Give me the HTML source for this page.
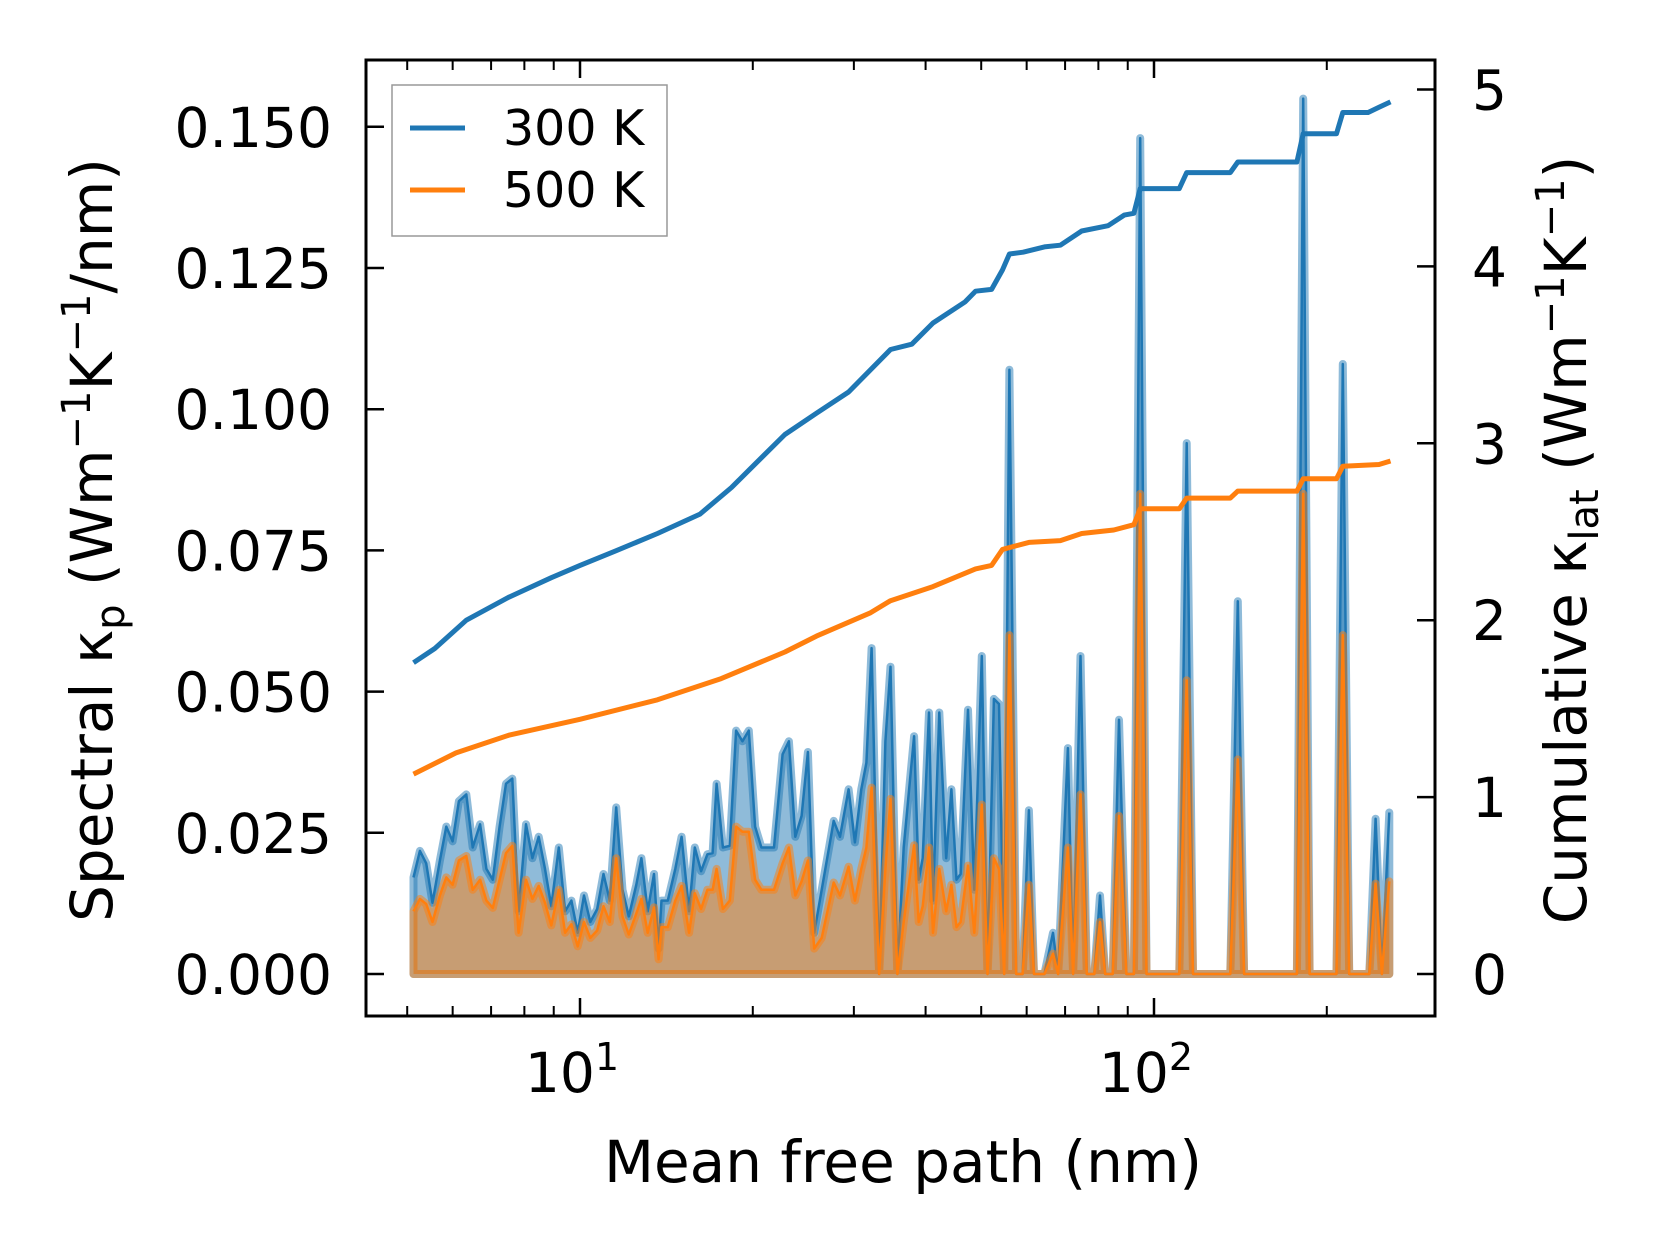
<!DOCTYPE html>
<html><head><meta charset="utf-8"><style>
html,body{margin:0;padding:0;background:#fff}
svg{display:block;font-family:"DejaVu Sans","Liberation Sans",sans-serif}
</style></head><body>
<svg id="chart" width="1660" height="1254" viewBox="0 0 1660 1254" xmlns="http://www.w3.org/2000/svg">
<g id="fills"></g><g id="lines"></g><g id="axes"></g>
</svg>
<script>
// log10 of mean free path (nm) for spectral data
const specLog=[0.710,0.721,0.732,0.743,0.756,0.767,0.778,0.789,0.802,0.813,0.826,0.837,0.848,0.860,0.871,0.882,0.893,0.906,0.917,0.928,0.939,0.950,0.963,0.974,0.985,0.996,1.007,1.018,1.030,1.041,1.052,1.063,1.074,1.085,1.098,1.107,1.118,1.129,1.137,1.142,1.153,1.166,1.177,1.190,1.200,1.211,1.222,1.231,1.238,1.249,1.261,1.272,1.283,1.294,1.305,1.316,1.338,1.353,1.364,1.375,1.386,1.397,1.408,1.421,1.442,1.453,1.468,1.479,1.490,1.499,1.508,1.521,1.532,1.541,1.553,1.564,1.582,1.590,1.597,1.608,1.615,1.626,1.638,1.647,1.656,1.663,1.676,1.687,1.700,1.710,1.721,1.730,1.739,1.748,1.760,1.771,1.782,1.791,1.809,1.824,1.833,1.850,1.859,1.872,1.883,1.896,1.906,1.915,1.928,1.939,1.952,1.965,1.976,1.987,2.044,2.057,2.068,2.133,2.146,2.157,2.249,2.260,2.271,2.318,2.329,2.340,2.375,2.386,2.397,2.410];
const spec300=[.0171,.0218,.0196,.0126,.0201,.0261,.0235,.0306,.0318,.0224,.0265,.0186,.0167,.0261,.0337,.0346,.0111,.0265,.0205,.0243,.0186,.0120,.0224,.0111,.0130,.0073,.0139,.0092,.0115,.0177,.0130,.0295,.0149,.0102,.0158,.0205,.0111,.0177,.0045,.0130,.0130,.0186,.0243,.0111,.0224,.0182,.0212,.0214,.0337,.0224,.0227,.0431,.0412,.0431,.0261,.0224,.0224,.0389,.0412,.0243,.0280,.0393,.0073,.0149,.0271,.0243,.0327,.0233,.0327,.0374,.0577,0,.0412,.0544,0,.0224,.0421,.0167,.0205,.0463,.0130,.0463,.0205,.0327,.0167,.0177,.0468,.0149,.0563,0,.0487,.0478,0,.107,0,0,.029,0,0,.0073,0,.040,0,.0563,0,0,.0139,0,0,.045,0,0,.148,0,0,.094,0,0,.066,0,0,.155,0,0,.108,0,0,.0275,0,.0286];
const spec500=[.0111,.0133,.0124,.0092,.0139,.0171,.0158,.0201,.0209,.0149,.0167,.0130,.0117,.0167,.0214,.0227,.0073,.0167,.0133,.0156,.0126,.0086,.0149,.0073,.0088,.0049,.0092,.0064,.0077,.0120,.0092,.0205,.0102,.0070,.0107,.0133,.0073,.0118,.0026,.0083,.0083,.0130,.0156,.0073,.0143,.0115,.0149,.0149,.0186,.0115,.0130,.0261,.0252,.0252,.0167,.0149,.0149,.0196,.0224,.0139,.0164,.0201,.0045,.0064,.0162,.0139,.0190,.0130,.0186,.0224,.0330,0,.0186,.0310,0,.0092,.0228,.0092,.0120,.0224,.0073,.0186,.0111,.0158,.0083,.0092,.0192,.0073,.0300,0,.0205,.0186,0,.060,0,0,.0158,0,0,.0036,0,.0224,0,.0318,0,0,.0092,0,0,.028,0,0,.085,0,0,.052,0,0,.038,0,0,.085,0,0,.060,0,0,.016,0,.0164];
const cum300Log=[0.710,0.747,0.802,0.876,0.950,1.0,1.061,1.135,1.209,1.264,1.301,1.357,1.412,1.468,1.541,1.578,1.615,1.671,1.689,1.717,1.736,1.748,1.772,1.809,1.837,1.874,1.920,1.948,1.965,1.976,2.044,2.057,2.133,2.146,2.249,2.260,2.318,2.329,2.373,2.392,2.412];
const cum300=[1.76,1.84,2.0,2.13,2.24,2.31,2.39,2.49,2.60,2.75,2.87,3.05,3.17,3.29,3.53,3.56,3.68,3.80,3.86,3.87,3.98,4.07,4.08,4.11,4.12,4.20,4.23,4.29,4.30,4.44,4.44,4.53,4.53,4.59,4.59,4.75,4.75,4.87,4.87,4.90,4.93];
const cum500Log=[0.710,0.784,0.876,1.0,1.135,1.246,1.357,1.412,1.505,1.541,1.615,1.689,1.717,1.736,1.782,1.837,1.874,1.930,1.965,1.976,2.044,2.057,2.133,2.146,2.249,2.260,2.318,2.329,2.392,2.412];
const cum500=[1.13,1.25,1.35,1.44,1.55,1.67,1.82,1.91,2.04,2.11,2.19,2.29,2.31,2.40,2.44,2.45,2.49,2.51,2.54,2.63,2.63,2.69,2.69,2.73,2.73,2.80,2.80,2.87,2.88,2.90];
const leftTicks=[0,0.025,0.05,0.075,0.1,0.125,0.15];
const leftTickLabels=["0.000","0.025","0.050","0.075","0.100","0.125","0.150"];
const rightTicks=[0,1,2,3,4,5];

const NS="http://www.w3.org/2000/svg";
const L=366,R=1435,T=60,B=1016;
const X=lg=>580+(lg-1)*574;
const YL=v=>974-v/0.025*141.2;
const YR=v=>974-v*176.9;
function mk(tag,attrs,parent){const e=document.createElementNS(NS,tag);for(const k in attrs)e.setAttribute(k,attrs[k]);parent.appendChild(e);return e;}
const fills=document.getElementById('fills'),lines=document.getElementById('lines'),axes=document.getElementById('axes');
function spectral(vals,color,name){
  let pts=specLog.map((lg,i)=>X(lg).toFixed(1)+','+YL(vals[i]).toFixed(1));
  let poly=pts.join(' ')+' '+X(specLog[specLog.length-1]).toFixed(1)+','+YL(0)+' '+X(specLog[0]).toFixed(1)+','+YL(0);
  const f=mk('polygon',{points:poly,fill:color,'fill-opacity':0.5,stroke:color,'stroke-opacity':0.5,'stroke-width':8,'stroke-linejoin':'round'},fills);
  
  
  const l=mk('polyline',{points:pts.join(' '),fill:'none',stroke:color,'stroke-width':2.5,'stroke-linejoin':'round'},fills);
  
  
}
spectral(spec300,'#1f77b4','spectral-300k');
spectral(spec500,'#ff7f0e','spectral-500k');
function cum(lgs,vals,color,name){
  const l=mk('polyline',{points:lgs.map((lg,i)=>X(lg).toFixed(1)+','+YR(vals[i]).toFixed(1)).join(' '),fill:'none',stroke:color,'stroke-width':5,'stroke-linejoin':'round'},lines);
  
  
}
cum(cum300Log,cum300,'#1f77b4','cumulative-300k');
cum(cum500Log,cum500,'#ff7f0e','cumulative-500k');
const fr=mk('rect',{x:L,y:T,width:R-L,height:B-T,fill:'none',stroke:'#000','stroke-width':3},axes);


leftTicks.forEach((v,i)=>{
  mk('line',{x1:L,x2:L+18,y1:YL(v),y2:YL(v),stroke:'#000','stroke-width':2.5},axes);
  const t=mk('text',{x:332,y:YL(v)+20,'text-anchor':'end','font-size':55},axes);
  t.textContent=leftTickLabels[i];
  
  
});
rightTicks.forEach(v=>{
  mk('line',{x1:R-18,x2:R,y1:YR(v),y2:YR(v),stroke:'#000','stroke-width':2.5},axes);
  const t=mk('text',{x:1472,y:YR(v)+20,'text-anchor':'start','font-size':55},axes);
  t.textContent=String(v);
  
  
});
[1,2].forEach(d=>{
  [T,B].forEach(y=>mk('line',{x1:X(d),x2:X(d),y1:y,y2:y===T?T+18:B-18,stroke:'#000','stroke-width':2.5},axes));
  const t=mk('text',{x:X(d)-8,y:1092,'text-anchor':'middle','font-size':55},axes);
  t.innerHTML='10<tspan dy="-22" font-size="38">'+d+'</tspan>';
  
  
});
[5,6,7,8,9,20,30,40,50,60,70,80,90,200].forEach(m=>{
  const x=X(Math.log10(m));
  [T,B].forEach(y=>mk('line',{x1:x,x2:x,y1:y,y2:y===T?T+10:B-10,stroke:'#000','stroke-width':2},axes));
});
</script>
<svg style="position:absolute;left:0;top:0" width="1660" height="1254">
<text x="903" y="1182" text-anchor="middle" font-size="58" font-family="DejaVu Sans, Liberation Sans, sans-serif">Mean free path (nm)</text>
<text transform="translate(112,540) rotate(-90)" text-anchor="middle" font-size="58" font-family="DejaVu Sans, Liberation Sans, sans-serif">Spectral κ<tspan dy="12" font-size="40">p</tspan><tspan dy="-12"> (Wm</tspan><tspan dy="-22" font-size="40">−1</tspan><tspan dy="22">K</tspan><tspan dy="-22" font-size="40">−1</tspan><tspan dy="22">/nm)</tspan></text>
<text transform="translate(1586,540) rotate(-90)" text-anchor="middle" font-size="58" font-family="DejaVu Sans, Liberation Sans, sans-serif">Cumulative κ<tspan dy="12" font-size="40">lat</tspan><tspan dy="-12"> (Wm</tspan><tspan dy="-22" font-size="40">−1</tspan><tspan dy="22">K</tspan><tspan dy="-22" font-size="40">−1</tspan><tspan dy="22">)</tspan></text>
<g>
<rect x="392" y="85" width="275" height="151" fill="#fff" fill-opacity="0.8" stroke="#999" stroke-width="1.5"/>
<line x1="410" x2="465" y1="128" y2="128" stroke="#1f77b4" stroke-width="5"/>
<text x="503" y="145" font-size="49" font-family="DejaVu Sans, Liberation Sans, sans-serif">300 K</text>
<line x1="410" x2="465" y1="190" y2="190" stroke="#ff7f0e" stroke-width="5"/>
<text x="503" y="207" font-size="49" font-family="DejaVu Sans, Liberation Sans, sans-serif">500 K</text>
</g>
</svg>
</body></html>
